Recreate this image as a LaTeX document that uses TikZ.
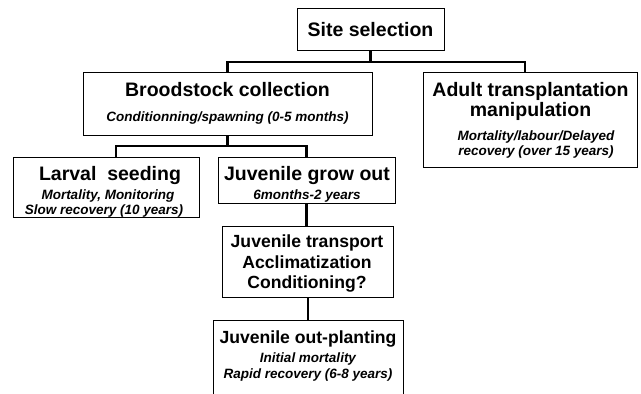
\documentclass[tikz,border=0pt]{standalone}
\usepackage{fontspec}
\setmainfont{Liberation Sans}
\begin{document}
\begin{tikzpicture}[x=1pt,y=-1pt,
  box/.style={draw, line width=1pt, inner sep=0pt},
  conn/.style={line width=2.6pt},
  ttl/.style={font=\fontsize{19.5}{22}\selectfont\bfseries, anchor=base, inner sep=0pt},
  ttlb/.style={font=\fontsize{17.6}{20}\selectfont\bfseries, anchor=base, inner sep=0pt},
  sub/.style={font=\fontsize{13.5}{15}\selectfont\bfseries\itshape, anchor=base, inner sep=0pt}]
\useasboundingbox (0,0) rectangle (641,394);
\clip (0,0) rectangle (641,394);
% boxes
\node[box, minimum width=147pt, minimum height=42pt] (site) at (370.5,29) {};
\node[box, minimum width=289pt, minimum height=63pt] (brood) at (227.5,103.5) {};
\node[box, minimum width=214pt, minimum height=95pt] (adult) at (530,119.5) {};
\node[box, minimum width=186pt, minimum height=60pt] (larval) at (106,187) {};
\node[box, minimum width=177pt, minimum height=46pt] (grow) at (306.5,180) {};
\node[box, minimum width=171pt, minimum height=71pt] (trans) at (308,261.5) {};
\node[box, minimum width=190pt, minimum height=100pt] (out) at (308,370) {};
% texts
\node[ttl] (tsite) at (370.5,36) {Site selection};
\node[ttl] (tbrood) at (227.5,96) {Broodstock collection};
\node[sub] (sbrood) at (227.5,121) {Conditionning/spawning (0-5 months)};
\node[ttl] (tadult1) at (530.5,96) {Adult transplantation};
\node[ttl] (tadult2) at (530.5,116.5) {manipulation};
\node[sub] (sadult1) at (536,140.5) {Mortality/labour/Delayed};
\node[sub] (sadult2) at (536,155) {recovery (over 15 years)};
\node[ttl] (tlarval) at (110,180) {Larval\ \ seeding};
\node[sub] (slarval1) at (108,199) {Mortality, Monitoring};
\node[sub] (slarval2) at (104,214) {Slow recovery (10 years)};
\node[ttl] (tgrow) at (307,180) {Juvenile grow out};
\node[sub] (sgrow) at (307,199) {6months-2 years};
\node[ttlb] (ttrans1) at (307,247) {Juvenile transport};
\node[ttlb] (ttrans2) at (307,268) {Acclimatization};
\node[ttlb] (ttrans3) at (307,288) {Conditioning?};
\node[ttlb] (tout) at (308,343.3) {Juvenile out-planting};
\node[sub] (sout1) at (308,362.7) {Initial mortality};
\node[sub] (sout2) at (308,378.3) {Rapid recovery (6-8 years)};
% connectors
\coordinate (busA) at (0,62);
\coordinate (adultIn) at (525,72);
\coordinate (busB) at (0,146);
\coordinate (larvIn) at (116,157);
\draw[conn] (site.south) -- (site.south |- busA);
\draw[conn] (brood.north) |- (adultIn |- busA) -- (adultIn);
\draw[conn] (brood.south) -- (brood.south |- busB);
\draw[conn] (larvIn) |- (grow.north |- busB) -- (grow.north);
\draw[conn] (grow.south) -- (grow.south |- trans.north);
\draw[conn] (trans.south) -- (trans.south |- out.north);
\end{tikzpicture}
\end{document}
